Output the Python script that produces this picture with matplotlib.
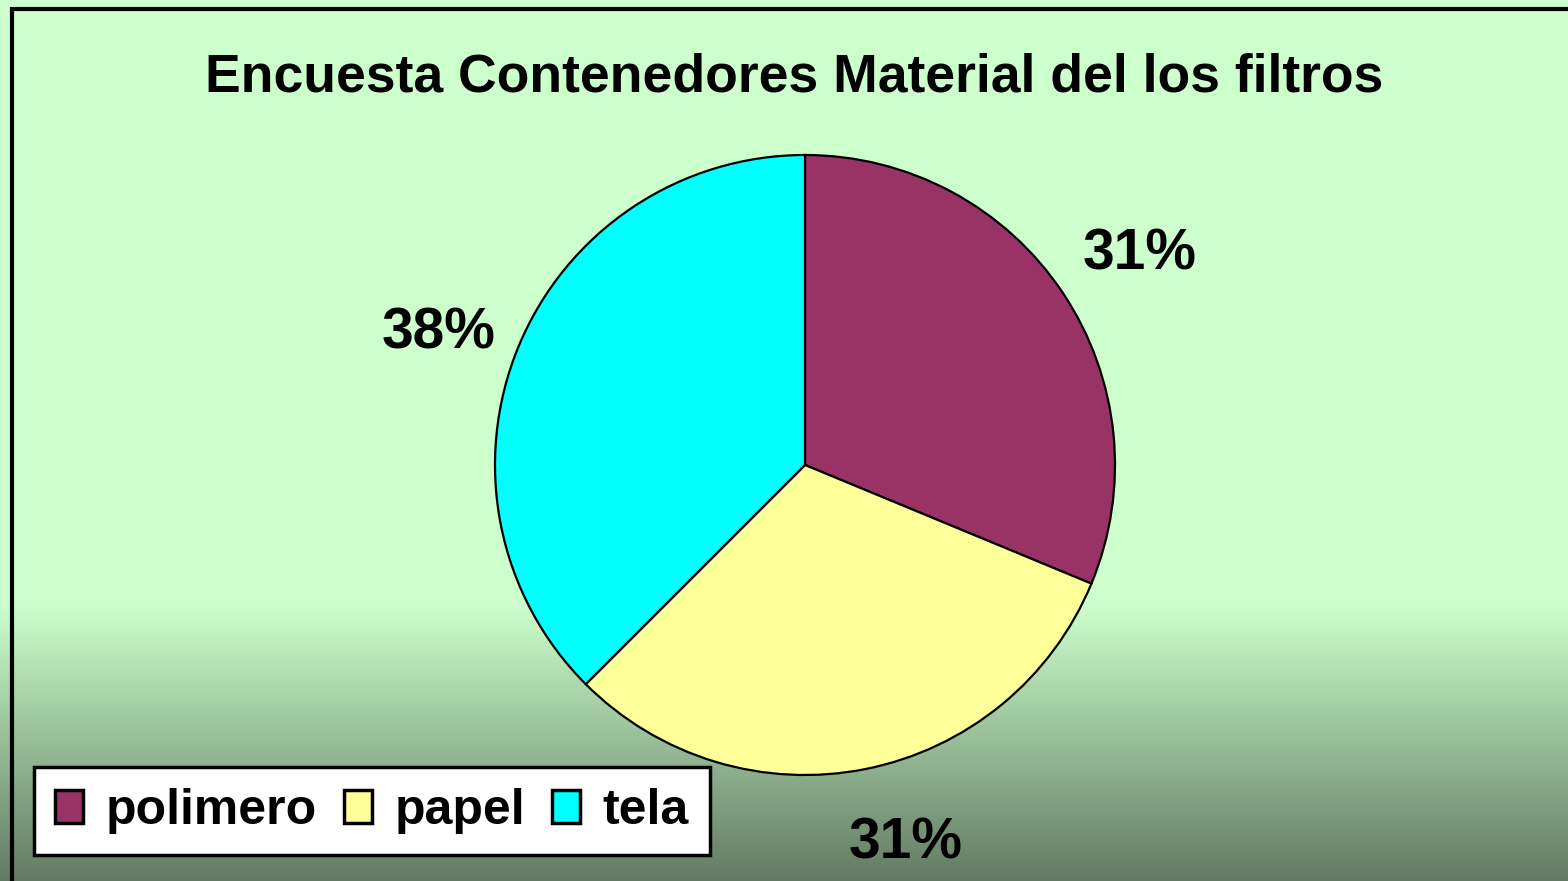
import matplotlib.pyplot as plt
import numpy as np
from matplotlib.patches import Rectangle

# datos de la encuesta
categorias = ['polimero', 'papel', 'tela']
valores = [5, 5, 6]
colores = ['#993366', '#FFFF99', '#00FFFF']
titulo = 'Encuesta Contenedores Material del los filtros'

plt.rcParams['font.family'] = ['Liberation Sans', 'DejaVu Sans']

W, H = 1568, 881
fig = plt.figure(figsize=(W / 100, H / 100), dpi=100)

# fondo verde con degradado hacia abajo
bg = fig.add_axes([0, 0, 1, 1], zorder=-2)
bg.axis('off')
ys = np.arange(H)
t = np.clip((ys - 605) / (H - 605), 0, 1)
arriba = np.array([204, 255, 204]) / 255
abajo = np.array([98, 122, 98]) / 255
grad = arriba[None, :] * (1 - t[:, None]) + abajo[None, :] * t[:, None]
bg.imshow(grad[:, None, :], aspect='auto', extent=[0, 1, 0, 1], origin='upper')
bg.set_xlim(0, 1)
bg.set_ylim(0, 1)

# marco del grafico (solo se ve arriba y a la izquierda)
fig.patches.append(Rectangle((12 / W, -0.1), 1.2, (H - 9) / H + 0.1,
                             transform=fig.transFigure, fill=False,
                             edgecolor='black', linewidth=3, zorder=5))

fig.text(794 / W, 1 - 78 / H, titulo, ha='center', va='center',
         fontsize=38.5, fontweight='bold')

# pastel
R = 310
cx, cy = 805, H - 465
ax = fig.add_axes([(cx - R) / W, (cy - R) / H, 2 * R / W, 2 * R / H])
wedges, _, autotexts = ax.pie(valores, colors=colores, startangle=90,
                              counterclock=False, autopct='%.0f%%',
                              pctdistance=1.27,
                              wedgeprops=dict(edgecolor='black', linewidth=1.6),
                              textprops=dict(fontsize=41, fontweight='bold'))
ax.set_xlim(-1, 1)
ax.set_ylim(-1, 1)
ax.axis('off')

# pequeño ajuste de las etiquetas como en el original (px)
ajustes = [(7, -8), (24, 8), (-3, -19)]
for txt, (dx, dy) in zip(autotexts, ajustes):
    x, y = txt.get_position()
    txt.set_position((x + dx / R, y + dy / R))

leg = fig.legend(wedges, categorias, loc='center',
                 bbox_to_anchor=(372 / W, 1 - 811 / H), ncol=3,
                 prop=dict(weight='bold', size=36),
                 fancybox=False, framealpha=1, edgecolor='black',
                 handlelength=0.55, handleheight=0.65, handletextpad=0.45,
                 columnspacing=0.55, borderpad=0.42)
leg.get_frame().set_linewidth(2.5)
for h in leg.legend_handles:
    h.set_linewidth(2.5)

fig.savefig('out.png', dpi=100)
